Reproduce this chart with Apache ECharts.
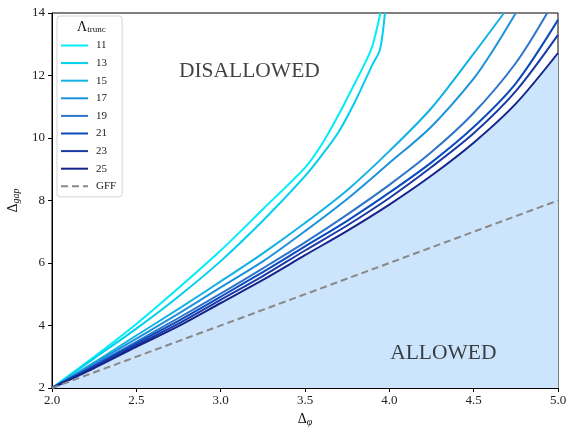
<!DOCTYPE html>
<html>
<head>
<meta charset="utf-8">
<script src="https://cdn.jsdelivr.net/npm/echarts@6/dist/echarts.min.js"></script>
<style>
  html, body { margin: 0; padding: 0; background: #fff; }
  #chart { width: 568px; height: 428px; }
</style>
</head>
<body>
<div id="chart"></div>
<script>
// bounds, one pair of arrays per cutoff
const phi11 = [2.0, 2.25, 2.5, 2.75, 3.0, 3.25, 3.5, 3.6, 3.7, 3.8, 3.865, 3.9, 3.947];
const gap11 = [2.0, 3.0, 4.05, 5.2, 6.4, 7.72, 9.05, 9.8, 10.75, 11.8, 12.5, 12.95, 14.0];
const phi13 = [2.0, 2.25, 2.5, 2.75, 3.0, 3.25, 3.5, 3.6, 3.7, 3.8, 3.9, 3.944, 3.974];
const gap13 = [2.0, 2.95, 3.9, 4.93, 6.06, 7.35, 8.78, 9.45, 10.2, 11.2, 12.35, 12.82, 14.0];
const phi15 = [2.0, 2.25, 2.5, 2.75, 3.0, 3.25, 3.5, 3.75, 4.0, 4.25, 4.5, 4.68];
const gap15 = [2.0, 2.82, 3.68, 4.53, 5.41, 6.31, 7.28, 8.33, 9.58, 10.96, 12.7, 14.0];
const phi17 = [2.0, 2.25, 2.5, 2.75, 3.0, 3.25, 3.5, 3.75, 4.0, 4.25, 4.5, 4.62, 4.75];
const gap17 = [2.0, 2.78, 3.58, 4.38, 5.22, 6.05, 7.02, 8.05, 9.2, 10.37, 11.9, 12.85, 14.0];
const phi19 = [2.0, 2.25, 2.5, 2.75, 3.0, 3.25, 3.5, 3.75, 4.0, 4.25, 4.5, 4.75, 4.936];
const gap19 = [2.0, 2.73, 3.48, 4.24, 5.02, 5.83, 6.66, 7.55, 8.5, 9.55, 10.8, 12.4, 14.0];
const phiLong = [2.0, 2.25, 2.5, 2.75, 3.0, 3.25, 3.5, 3.75, 4.0, 4.25, 4.5, 4.75, 5.0];
const gap21 = [2.0, 2.70, 3.43, 4.15, 4.92, 5.71, 6.53, 7.35, 8.25, 9.22, 10.35, 11.75, 13.78];
const gap23 = [2.0, 2.67, 3.37, 4.06, 4.82, 5.58, 6.4, 7.2, 8.08, 9.07, 10.15, 11.5, 13.3];
const gap25 = [2.0, 2.64, 3.32, 3.98, 4.72, 5.46, 6.25, 7.03, 7.87, 8.8, 9.85, 11.1, 12.72];
const phiGFF = [2.0, 5.0];
const gapGFF = [2.0, 8.0];

const cutoffs = ['11', '13', '15', '17', '19', '21', '23', '25'];

const serif = 'Liberation Serif';
const colors = ['#00eef8', '#00cff0', '#12b2e6', '#1c92dc', '#2c74cc', '#0a4abc', '#1a3aa6', '#14248c'];
const curves = [
  [phi11, gap11], [phi13, gap13], [phi15, gap15], [phi17, gap17],
  [phi19, gap19], [phiLong, gap21], [phiLong, gap23], [phiLong, gap25]
];

const pairs = (xs, ys) => xs.map((x, i) => [x, ys[i]]);

const series = curves.map(([xs, ys], i) => ({
  name: cutoffs[i],
  type: 'line',
  data: pairs(xs, ys),
  symbol: 'none',
  smooth: 0.3,
  clip: true,
  z: 3,
  lineStyle: { color: colors[i], width: 2 },
  itemStyle: { color: colors[i] },
  // allowed region is everything below the highest cutoff
  areaStyle: i === curves.length - 1 ? { color: '#cce4fc', opacity: 1 } : undefined
}));

series.push({
  name: 'GFF',
  type: 'line',
  data: pairs(phiGFF, gapGFF),
  symbol: 'none',
  z: 4,
  lineStyle: { color: '#888888', width: 2, type: [7, 4] },
  itemStyle: { color: '#888888' }
});

// region labels
series.push({
  name: 'regions',
  type: 'scatter',
  symbolSize: 0,
  silent: true,
  z: 5,
  data: [
    { value: [3.17, 12.12], label: { formatter: 'DISALLOWED' } },
    { value: [4.32, 3.1], label: { formatter: 'ALLOWED' } }
  ],
  label: {
    show: true,
    position: 'inside',
    fontFamily: serif,
    fontSize: 21.5,
    color: '#111'
  }
});

const chart = echarts.init(document.getElementById('chart'));
chart.setOption({
  animation: false,
  backgroundColor: '#fff',
  grid: {
    left: 52, right: 10, top: 13, bottom: 40,
    outerBoundsMode: 'none',
    containLabel: false,
    show: true, borderColor: '#000', borderWidth: 1
  },
  xAxis: {
    type: 'value',
    min: 2, max: 5, interval: 0.5,
    name: '{d|Δ}{s|φ}',
    nameLocation: 'middle',
    nameGap: 22,
    nameTextStyle: {
      rich: {
        d: { fontFamily: serif, fontSize: 14, color: '#111' },
        s: { fontFamily: serif, fontSize: 10, fontStyle: 'italic', color: '#111', verticalAlign: 'bottom', padding: [6, 0, 0, 0] }
      }
    },
    axisLine: { onZero: false, lineStyle: { color: '#000', width: 1 } },
    axisTick: { show: true, inside: false, length: 4, lineStyle: { color: '#000' } },
    axisLabel: {
      fontFamily: serif, fontSize: 13, color: '#222', margin: 6,
      formatter: v => v.toFixed(1)
    },
    splitLine: { show: false }
  },
  yAxis: {
    type: 'value',
    min: 2, max: 14, interval: 2,
    name: '{d|Δ}{s|gap}',
    nameLocation: 'middle',
    nameRotate: 90,
    nameGap: 30,
    nameTextStyle: {
      rich: {
        d: { fontFamily: serif, fontSize: 14, color: '#111' },
        s: { fontFamily: serif, fontSize: 10, fontStyle: 'italic', color: '#111', verticalAlign: 'bottom', padding: [6, 0, 0, 0] }
      }
    },
    axisLine: { onZero: false, lineStyle: { color: '#000', width: 1 } },
    axisTick: { show: true, inside: false, length: 4, lineStyle: { color: '#000' } },
    axisLabel: { fontFamily: serif, fontSize: 13, color: '#222', margin: 7 },
    splitLine: { show: false }
  },
  legend: {
    data: cutoffs.concat(['GFF']),
    orient: 'vertical',
    left: 57,
    top: 16,
    padding: [24, 6, 5, 3],
    itemWidth: 27,
    itemHeight: 10,
    itemGap: 6.6,
    itemStyle: { opacity: 0 },
    backgroundColor: 'rgba(255,255,255,0.85)',
    borderColor: '#d4d4d4',
    borderWidth: 1,
    borderRadius: 3,
    textStyle: { fontFamily: serif, fontSize: 11, color: '#222', padding: [0, 0, 0, 3] }
  },
  graphic: [{
    type: 'text',
    left: 77,
    top: 20,
    z: 100,
    style: {
      text: '{l|Λ}{s|trunc}',
      rich: {
        l: { fontFamily: serif, fontSize: 14, fill: '#111' },
        s: { fontFamily: serif, fontSize: 9, fill: '#111', verticalAlign: 'bottom', padding: [6, 0, 0, 0] }
      }
    }
  }],
  series: series
});
</script>
</body>
</html>
